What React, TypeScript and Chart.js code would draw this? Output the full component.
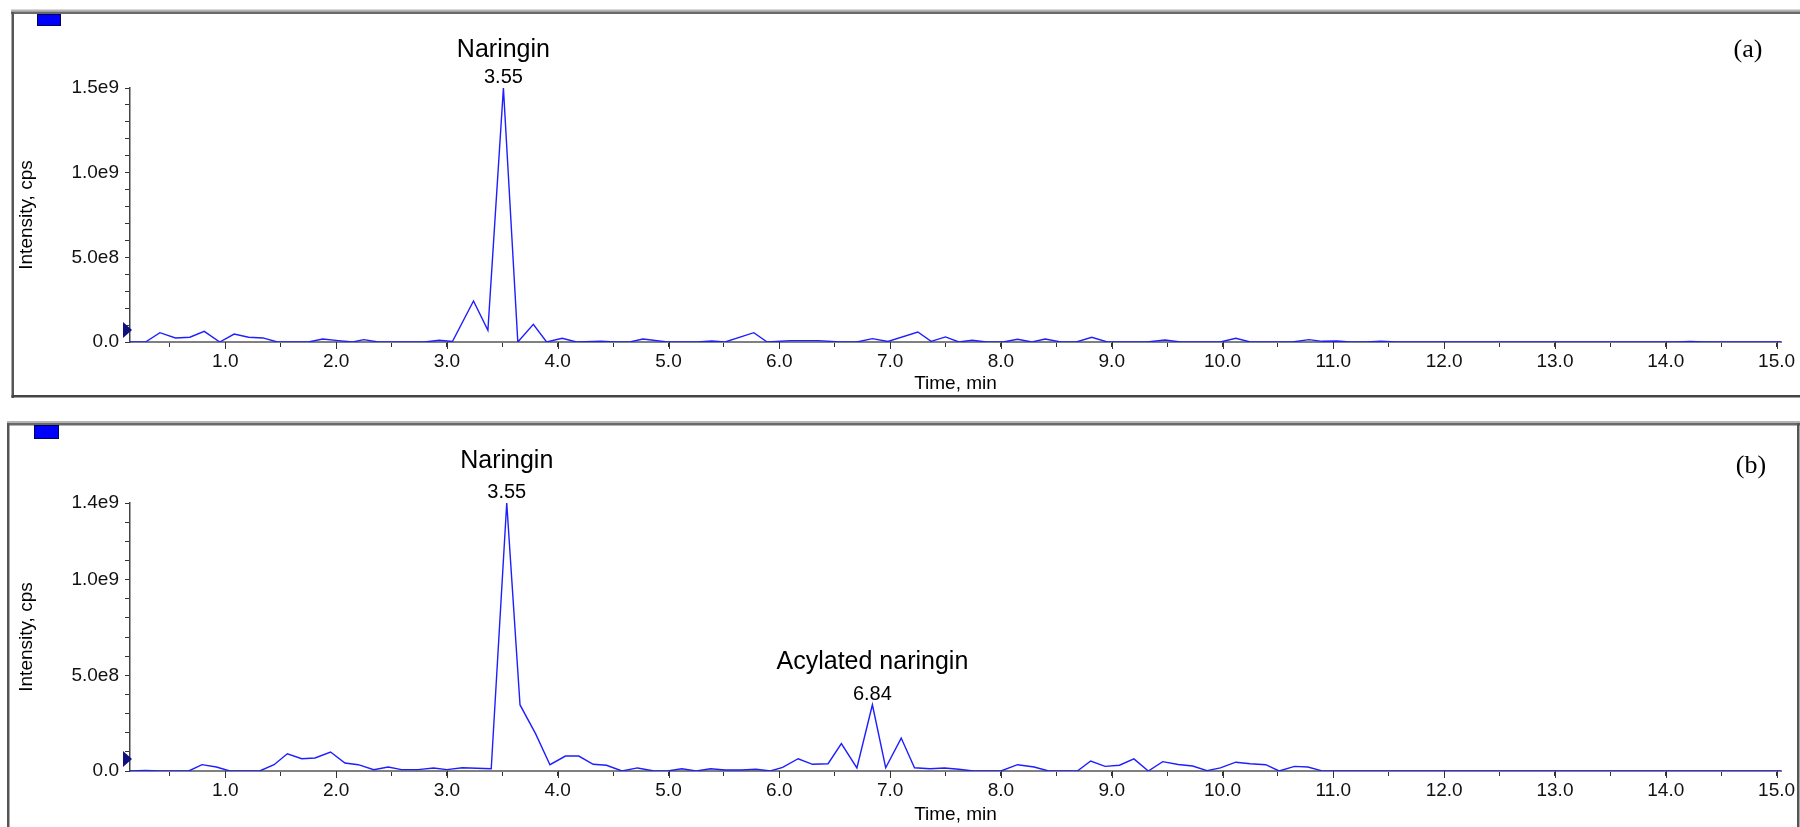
import React, { useEffect, useRef } from "react";
import { Chart, registerables } from "chart.js";
Chart.register(...registerables);

// ---------- data: panel (a) ----------
const timesA = [
  0.14, 0.28, 0.41, 0.55, 0.68, 0.81, 0.95, 1.08, 1.21, 1.34, 1.47, 1.75, 1.88, 2.02, 2.15, 2.25, 2.38, 2.8, 2.93, 3.05,
  3.24, 3.37, 3.51, 3.64, 3.78, 3.9, 4.04, 4.17, 4.39, 4.52, 4.65, 4.77, 4.99, 5.26, 5.39, 5.51, 5.77, 5.89, 6.1, 6.35,
  6.55, 6.7, 6.84, 6.98, 7.25, 7.37, 7.5, 7.62, 7.74, 7.87, 8.02, 8.15, 8.28, 8.4, 8.54, 8.68, 8.82, 8.96, 9.32, 9.48,
  9.62, 9.98, 10.12, 10.25, 10.63, 10.78, 10.9, 11.03, 11.15, 11.3, 11.43, 11.56, 14.1, 14.22, 14.35, 15.04,
];
const intensityA = [
  0, 0, 5.5e7, 2.4e7, 2.8e7, 6.3e7, 0, 4.7e7, 2.8e7, 2.4e7, 0, 0, 1.8e7, 8e6, 0, 1.4e7, 0, 0, 1.0e7, 3e6,
  2.42e8, 6.9e7, 1.5e9, 0, 1.04e8, 0, 2.2e7, 0, 4e6, 0, 0, 1.8e7, 0, 0, 6e6, 0, 5.5e7, 0, 8e6, 8e6,
  0, 0, 2.0e7, 3e6, 5.9e7, 4e6, 3.0e7, 0, 1.0e7, 0, 0, 1.6e7, 0, 1.8e7, 0, 0, 2.8e7, 0, 0, 1.2e7,
  0, 0, 2.2e7, 0, 0, 1.4e7, 4e6, 6e6, 0, 0, 5e6, 0, 0, 3e6, 0, 0,
];

// ---------- data: panel (b) ----------
const timesB = [
  0.14, 0.28, 0.41, 0.67, 0.79, 0.92, 1.04, 1.31, 1.44, 1.56, 1.69, 1.81, 1.95, 2.08, 2.2, 2.34, 2.47, 2.59, 2.74, 2.88,
  3.0, 3.14, 3.27, 3.4, 3.54, 3.66, 3.8, 3.93, 4.07, 4.19, 4.32, 4.44, 4.58, 4.72, 4.87, 4.99, 5.12, 5.25, 5.38, 5.51,
  5.66, 5.79, 5.92, 6.03, 6.17, 6.3, 6.44, 6.56, 6.7, 6.84, 6.96, 7.1, 7.22, 7.36, 7.49, 7.62, 7.75, 8.0, 8.15, 8.3,
  8.43, 8.69, 8.81, 8.94, 9.07, 9.2, 9.33, 9.46, 9.6, 9.73, 9.86, 9.98, 10.12, 10.25, 10.39, 10.51, 10.65, 10.77, 10.89, 11.0,
  15.04,
];
const intensityB = [
  0, 3e6, 0, 0, 3.3e7, 2.1e7, 0, 0, 3.3e7, 9.0e7, 6.4e7, 6.8e7, 9.9e7, 4.2e7, 3.3e7, 7e6, 2.1e7, 7e6, 7e6, 1.6e7,
  7e6, 1.7e7, 1.4e7, 1.2e7, 1.4e9, 3.45e8, 1.95e8, 3.3e7, 7.8e7, 7.8e7, 3.5e7, 3.0e7, 0, 1.6e7, 0, 0, 1.2e7, 0, 1.2e7, 5e6,
  5e6, 9e6, 0, 1.9e7, 6.4e7, 3.5e7, 3.8e7, 1.43e8, 1.6e7, 3.46e8, 1.7e7, 1.72e8, 1.7e7, 1.2e7, 1.6e7, 9e6, 0, 0, 3.3e7, 2.1e7,
  0, 0, 5.2e7, 2.4e7, 3.0e7, 6.3e7, 0, 4.9e7, 3.4e7, 2.6e7, 2e6, 1.6e7, 4.6e7, 3.8e7, 3.3e7, 0, 2.4e7, 2.1e7, 2e6, 0,
  0,
];

// ---------- axes ----------
const xMin = 0.14;
const xMax = 15.04;
const xTickValues = [
  0.5, 1.0, 1.5, 2.0, 2.5, 3.0, 3.5, 4.0, 4.5, 5.0, 5.5, 6.0, 6.5, 7.0, 7.5, 8.0, 8.5, 9.0, 9.5, 10.0,
  10.5, 11.0, 11.5, 12.0, 12.5, 13.0, 13.5, 14.0, 14.5, 15.0,
];
const yStep = 1e8;
const yMaxA = 1.5e9;
const yLabelValuesA = [0, 5e8, 1e9, 1.5e9];
const yLabelTextsA = ["0.0", "5.0e8", "1.0e9", "1.5e9"];
const yMaxB = 1.4e9;
const yLabelValuesB = [0, 5e8, 1e9, 1.4e9];
const yLabelTextsB = ["0.0", "5.0e8", "1.0e9", "1.4e9"];
const xTitle = "Time, min";
const yTitle = "Intensity, cps";

// ---------- peak annotations ----------
const peakNamesA = ["Naringin"];
const peakRtA = ["3.55"];
const peakTimesA = [3.51];
const peakValuesA = [1.5e9];
const peakNameGapA = [31];
const peakNamesB = ["Naringin", "Acylated naringin"];
const peakRtB = ["3.55", "6.84"];
const peakTimesB = [3.54, 6.84];
const peakValuesB = [1.4e9, 3.46e8];
const peakNameGapB = [35, 36];
const markerLevelA = 7.1e7;
const markerLevelB = 6.3e7;

const SANS = '"Liberation Sans", Arial, sans-serif';
const SERIF = '"Liberation Serif", "Times New Roman", serif';

type PanelCfg = {
  times: number[];
  values: number[];
  yMax: number;
  yLabelValues: number[];
  yLabelTexts: string[];
  peakNames: string[];
  peakRts: string[];
  peakTimes: number[];
  peakValues: number[];
  peakNameGap: number[];
  markerLevel: number;
  tag: string;
  tagX: number;
  tagY: number;
  height: number;
  padTop: number;
  xAxisHeight: number;
  xTitlePad: number;
  drawFrame: (ctx: CanvasRenderingContext2D) => void;
};

const panelA: PanelCfg = {
  times: timesA,
  values: intensityA,
  yMax: yMaxA,
  yLabelValues: yLabelValuesA,
  yLabelTexts: yLabelTextsA,
  peakNames: peakNamesA,
  peakRts: peakRtA,
  peakTimes: peakTimesA,
  peakValues: peakValuesA,
  peakNameGap: peakNameGapA,
  markerLevel: markerLevelA,
  tag: "(a)",
  tagX: 1748,
  tagY: 50,
  height: 410,
  padTop: 88,
  xAxisHeight: 68,
  xTitlePad: 14.6,
  drawFrame: (ctx) => {
    ctx.fillStyle = "#b4b4b4";
    ctx.fillRect(11, 9.5, 1789, 2);
    ctx.fillStyle = "#6a6a6a";
    ctx.fillRect(11, 11.5, 1789, 2.5);
    ctx.fillStyle = "#555";
    ctx.fillRect(11.5, 12, 2.5, 386);
    ctx.fillStyle = "#444";
    ctx.fillRect(11.5, 395, 1789, 2.5);
    ctx.fillStyle = "#0000ff";
    ctx.fillRect(37, 14, 24, 12);
    ctx.strokeStyle = "#00005a";
    ctx.lineWidth = 1;
    ctx.strokeRect(37.5, 14.5, 23, 11);
  },
};

const panelB: PanelCfg = {
  times: timesB,
  values: intensityB,
  yMax: yMaxB,
  yLabelValues: yLabelValuesB,
  yLabelTexts: yLabelTextsB,
  peakNames: peakNamesB,
  peakRts: peakRtB,
  peakTimes: peakTimesB,
  peakValues: peakValuesB,
  peakNameGap: peakNameGapB,
  markerLevel: markerLevelB,
  tag: "(b)",
  tagX: 1751,
  tagY: 56,
  height: 417,
  padTop: 93,
  xAxisHeight: 56,
  xTitlePad: 0.6,
  drawFrame: (ctx) => {
    ctx.fillStyle = "#b4b4b4";
    ctx.fillRect(7, 11, 1793, 2);
    ctx.fillStyle = "#6a6a6a";
    ctx.fillRect(7, 13, 1793, 2.5);
    ctx.fillStyle = "#555";
    ctx.fillRect(7, 13, 2.5, 404);
    ctx.fillRect(1797, 13, 2.5, 404);
    ctx.fillStyle = "#0000ff";
    ctx.fillRect(34, 15, 25, 14);
    ctx.strokeStyle = "#00005a";
    ctx.lineWidth = 1;
    ctx.strokeRect(34.5, 15.5, 24, 13);
  },
};

function Panel({ cfg, top }: { cfg: PanelCfg; top: number }) {
  const ref = useRef<HTMLCanvasElement>(null);
  useEffect(() => {
    const canvas = ref.current;
    if (!canvas) return;
    const p = cfg;
    const deco = {
      id: "deco",
      beforeDraw(chart: any) {
        const ctx = chart.ctx as CanvasRenderingContext2D;
        ctx.save();
        ctx.fillStyle = "#ffffff";
        ctx.fillRect(0, 0, chart.width, chart.height);
        p.drawFrame(ctx);
        ctx.restore();
      },
      afterDraw(chart: any) {
        const ctx = chart.ctx as CanvasRenderingContext2D;
        const xs = chart.scales.x;
        const ys = chart.scales.y;
        ctx.save();
        // longer tick marks at labelled (integer) times
        const base = chart.chartArea.bottom;
        ctx.strokeStyle = "#333";
        ctx.lineWidth = 1;
        xTickValues.forEach((v) => {
          if (Math.abs(v - Math.round(v)) < 1e-6) {
            const px = Math.round(xs.getPixelForValue(v)) + 0.5;
            ctx.beginPath();
            ctx.moveTo(px, base);
            ctx.lineTo(px, base + 7);
            ctx.stroke();
          }
        });
        // threshold marker on y axis
        const ty = ys.getPixelForValue(p.markerLevel);
        const ax = chart.chartArea.left;
        ctx.beginPath();
        ctx.moveTo(ax + 2, ty);
        ctx.lineTo(ax - 7, ty - 8);
        ctx.lineTo(ax - 7, ty + 8);
        ctx.closePath();
        ctx.fillStyle = "#101080";
        ctx.fill();
        // peak labels
        ctx.fillStyle = "#000";
        ctx.textAlign = "center";
        ctx.textBaseline = "alphabetic";
        p.peakNames.forEach((name, i) => {
          const px = xs.getPixelForValue(p.peakTimes[i]);
          const py = ys.getPixelForValue(p.peakValues[i]);
          ctx.font = `20px ${SANS}`;
          ctx.fillText(p.peakRts[i], px, py - 5);
          ctx.font = `25px ${SANS}`;
          ctx.fillText(name, px, py - p.peakNameGap[i]);
        });
        ctx.font = `26px ${SERIF}`;
        ctx.textBaseline = "middle";
        ctx.fillText(p.tag, p.tagX, p.tagY);
        ctx.restore();
      },
    };

    const chart = new Chart(canvas, {
      type: "line",
      data: {
        datasets: [
          {
            data: p.times.map((t, i) => ({ x: t, y: p.values[i] })),
            borderColor: "rgb(30,30,255)",
            borderWidth: 1.4,
            pointRadius: 0,
            tension: 0,
            fill: false,
          },
        ],
      },
      options: {
        animation: false,
        responsive: false,
        devicePixelRatio: 1,
        layout: { padding: { left: 0, right: 19, top: p.padTop, bottom: 0 } },
        plugins: { legend: { display: false }, tooltip: { enabled: false } },
        scales: {
          x: {
            type: "linear",
            min: xMin,
            max: xMax,
            afterBuildTicks: (s: any) => {
              s.ticks = xTickValues.map((v) => ({ value: v }));
            },
            afterFit: (s: any) => {
              s.height = p.xAxisHeight;
            },
            grid: { display: true, drawOnChartArea: false, drawTicks: true, tickLength: 5, tickColor: "#333", tickWidth: 1 },
            border: { display: true, color: "#808080", width: 2 },
            ticks: {
              autoSkip: false,
              maxRotation: 0,
              minRotation: 0,
              padding: 3,
              color: "#111",
              font: { family: SANS, size: 19 },
              callback: (v: any) => (Math.abs(v - Math.round(v)) < 1e-6 ? Number(v).toFixed(1) : ""),
            },
            title: {
              display: true,
              text: xTitle,
              color: "#000",
              font: { family: SANS, size: 19 },
              padding: { top: 0, bottom: p.xTitlePad },
            },
          },
          y: {
            type: "linear",
            min: 0,
            max: p.yMax,
            afterBuildTicks: (s: any) => {
              const arr: any[] = [];
              for (let v = 0; v <= p.yMax + 1; v += yStep) arr.push({ value: v });
              s.ticks = arr;
            },
            afterFit: (s: any) => {
              s.width = 130;
            },
            grid: { display: true, drawOnChartArea: false, drawTicks: true, tickLength: 5, tickColor: "#333", tickWidth: 1 },
            border: { display: true, color: "#444", width: 1.5 },
            ticks: {
              autoSkip: false,
              padding: 6,
              color: "#111",
              font: { family: SANS, size: 19 },
              callback: (v: any) => {
                const idx = p.yLabelValues.findIndex((lv) => Math.abs(lv - v) < 1e3);
                return idx >= 0 ? p.yLabelTexts[idx] : "";
              },
            },
            title: {
              display: true,
              text: yTitle,
              color: "#000",
              font: { family: SANS, size: 19 },
              padding: { top: 15, bottom: 0 },
            },
          },
        },
      },
      plugins: [deco],
    } as any);
    return () => chart.destroy();
  }, [cfg]);

  return (
    <canvas
      ref={ref}
      width={1800}
      height={cfg.height}
      style={{ position: "absolute", left: 0, top, width: 1800, height: cfg.height, display: "block" }}
    />
  );
}

export default function App() {
  return (
    <div style={{ position: "absolute", left: 0, top: 0, width: 1800, height: 827, background: "#fff", overflow: "hidden" }}>
      <Panel cfg={panelA} top={0} />
      <Panel cfg={panelB} top={410} />
    </div>
  );
}
